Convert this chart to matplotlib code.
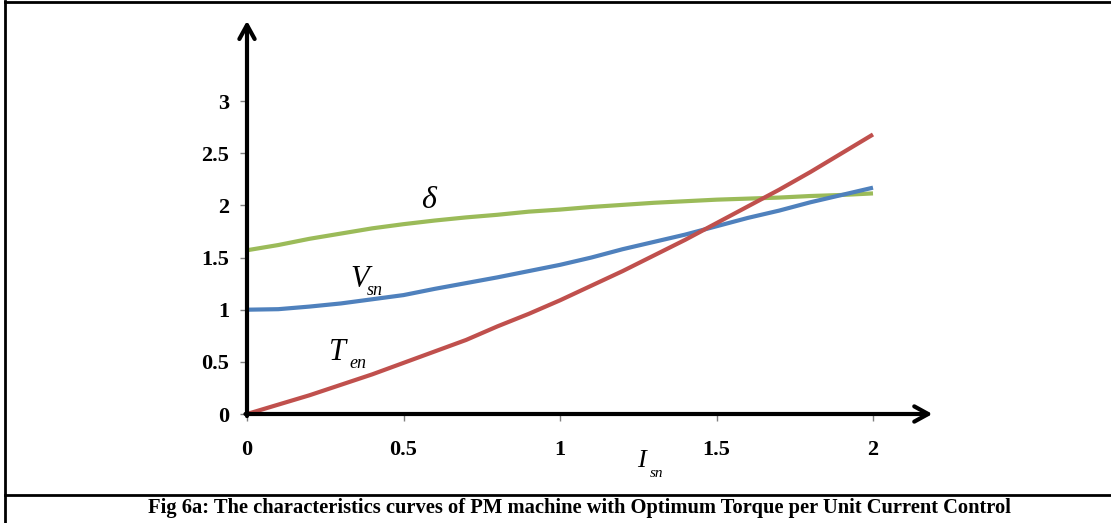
import matplotlib
matplotlib.use("Agg")
import matplotlib.pyplot as plt
from matplotlib.lines import Line2D

# Normalised stator current I_sn
current = [0.0, 0.1, 0.2, 0.3, 0.4, 0.5, 0.6, 0.7, 0.8, 0.9, 1.0,
           1.1, 1.2, 1.3, 1.4, 1.5, 1.6, 1.7, 1.8, 1.9, 2.0]
# Load angle delta
delta = [1.57, 1.62, 1.68, 1.73, 1.78, 1.82, 1.855, 1.885, 1.91, 1.94, 1.96,
         1.985, 2.005, 2.025, 2.04, 2.055, 2.065, 2.075, 2.09, 2.10, 2.115]
# Stator voltage V_sn
voltage = [1.00, 1.005, 1.03, 1.06, 1.10, 1.14, 1.20, 1.255, 1.31, 1.37, 1.43,
           1.50, 1.58, 1.65, 1.72, 1.80, 1.88, 1.95, 2.03, 2.10, 2.17]
# Electromagnetic torque T_en
torque = [0.0, 0.09, 0.18, 0.28, 0.38, 0.49, 0.60, 0.71, 0.84, 0.96, 1.09,
          1.23, 1.37, 1.52, 1.67, 1.83, 1.99, 2.15, 2.32, 2.50, 2.68]

x_ticks = [0, 0.5, 1, 1.5, 2]
x_tick_labels = ["0", "0.5", "1", "1.5", "2"]
y_ticks = [0, 0.5, 1, 1.5, 2, 2.5, 3]
y_tick_labels = ["0", "0.5", "1", "1.5", "2", "2.5", "3"]

caption = ("Fig 6a: The characteristics curves of PM machine with "
           "Optimum Torque per Unit Current Control")

SERIF = "Liberation Serif"
W, H = 1111, 523
fig = plt.figure(figsize=(W / 100, H / 100), dpi=100)

# axes placed in pixel units: x=0 at 247 px, y=0 at 414 px from top
px_x, px_y = 313.0, 104.3
x_max, y_max = 2.2, 3.8
left, bottom = 247.0, H - 414.0
ax = fig.add_axes([left / W, bottom / H, x_max * px_x / W, y_max * px_y / H])
ax.set_xlim(0, x_max)
ax.set_ylim(0, y_max)
for s in ax.spines.values():
    s.set_visible(False)
ax.patch.set_alpha(0)

ax.plot(current, delta, color="#9BBB59", lw=3.0, solid_capstyle="butt", zorder=3)
ax.plot(current, voltage, color="#4F81BD", lw=3.0, solid_capstyle="butt", zorder=4)
ax.plot(current, torque, color="#C0504D", lw=3.0, solid_capstyle="butt", zorder=5)

ax.set_xticks(x_ticks)
ax.set_xticklabels(x_tick_labels)
ax.set_yticks(y_ticks)
ax.set_yticklabels(y_tick_labels)
ax.tick_params(axis="both", direction="out", length=5, width=1, color="#808080",
               labelsize=16)
ax.tick_params(axis="x", pad=14)
ax.tick_params(axis="y", pad=8)
for lab in ax.get_xticklabels() + ax.get_yticklabels():
    lab.set_fontfamily(SERIF)
    lab.set_fontweight("bold")

# axis arrows
arrow_style = "->,head_length=1.0,head_width=0.55"
ax.annotate("", xy=(2.19, 0), xytext=(-0.005, 0), xycoords="data",
            arrowprops=dict(arrowstyle=arrow_style, lw=3.0, color="black",
                            mutation_scale=10, shrinkA=0, shrinkB=0),
            annotation_clip=False, zorder=6)
ax.annotate("", xy=(0, 3.77), xytext=(0, -0.02), xycoords="data",
            arrowprops=dict(arrowstyle=arrow_style, lw=3.0, color="black",
                            mutation_scale=10, shrinkA=0, shrinkB=0),
            annotation_clip=False, zorder=6)

# curve labels
ital = dict(family=SERIF, style="italic", color="black")
ax.text(0.555, 1.975, "δ", fontsize=23, ha="left", va="baseline", **ital)
ax.text(0.329, 1.218, "V", fontsize=22, ha="left", va="baseline", **ital)
ax.text(0.384, 1.141, "sn", fontsize=13, ha="left", va="baseline", **ital)
ax.text(0.262, 0.518, "T", fontsize=22, ha="left", va="baseline", **ital)
ax.text(0.328, 0.441, "en", fontsize=13, ha="left", va="baseline", **ital)
ax.text(1.246, -0.508, "I", fontsize=19, ha="left", va="baseline",
        clip_on=False, **ital)
ax.text(1.288, -0.601, "sn", fontsize=11, ha="left", va="baseline",
        clip_on=False, **ital)

# outer frame and caption row
frame = dict(color="black", lw=2.0, transform=fig.transFigure)
fig.add_artist(Line2D([5 / W, 1.0], [1 - 1.5 / H, 1 - 1.5 / H], **frame))
fig.add_artist(Line2D([5 / W, 5 / W], [0, 1 - 1.0 / H], **frame))
fig.add_artist(Line2D([5 / W, 1.0], [1 - 495 / H, 1 - 495 / H], **frame))
fig.text(579 / W, 1 - 508 / H, caption, ha="center", va="center",
         family=SERIF, fontweight="bold", fontsize=14.8)

fig.savefig("out.png", dpi=100, facecolor="white")
